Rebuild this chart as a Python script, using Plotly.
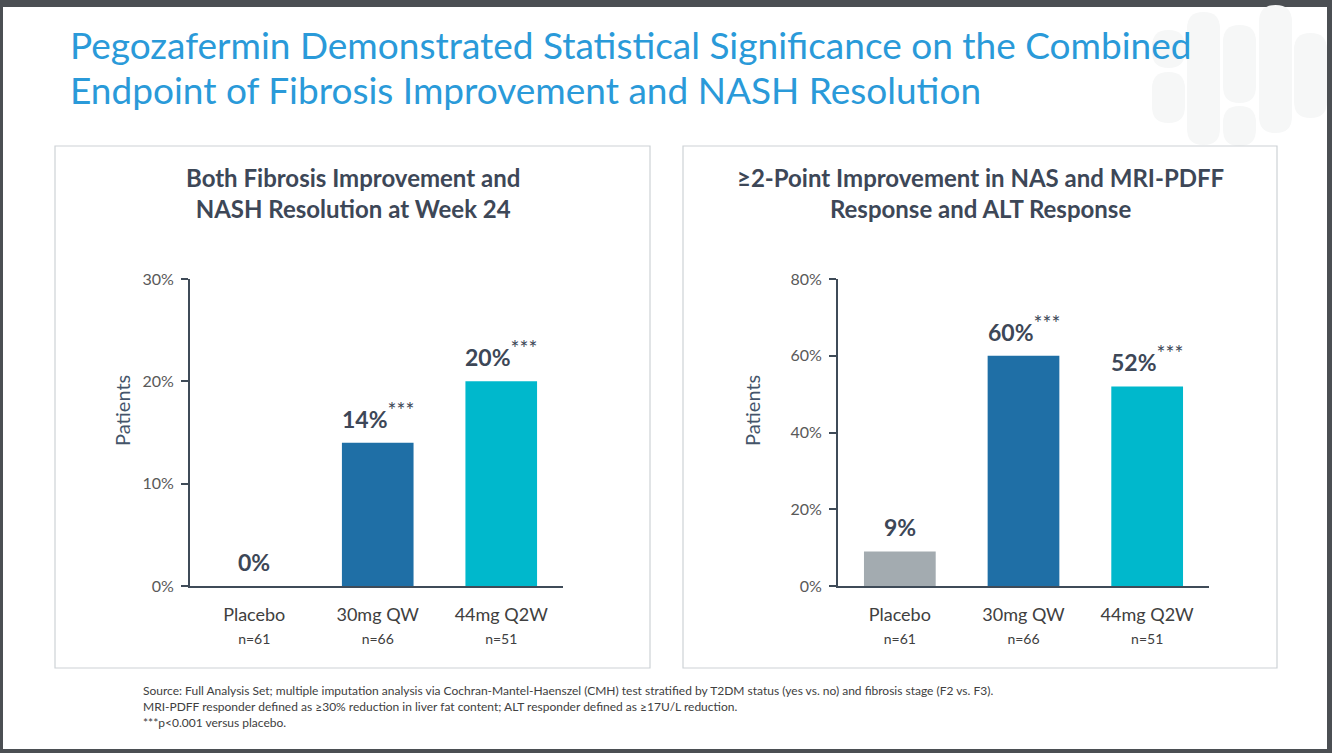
import plotly.graph_objects as go

W, H = 1332, 753

categories = ["Placebo", "30mg QW", "44mg Q2W"]
n_labels = ["n=61", "n=66", "n=51"]
left_values = [0, 14, 20]
right_values = [9, 60, 52]
left_sig = ["", "***", "***"]
right_sig = ["", "***", "***"]
left_ticks = [0, 10, 20, 30]
right_ticks = [0, 20, 40, 60, 80]

colors = ["#a3abb0", "#1f6fa6", "#00b8cc"]
FONT = "Lato"
DARK = "#3d4757"


def px(x):
    return x / W


def py(y):
    return 1 - y / H


fig = go.Figure()

fig.add_trace(go.Bar(x=categories, y=left_values, marker=dict(color=colors, line=dict(width=0)),
                     width=0.58, xaxis="x", yaxis="y", showlegend=False, hoverinfo="skip"))
fig.add_trace(go.Bar(x=categories, y=right_values, marker=dict(color=colors, line=dict(width=0)),
                     width=0.58, xaxis="x2", yaxis="y2", showlegend=False, hoverinfo="skip"))

ticktext = [f"{c}<br><span style='font-size:14px'>{n}</span>" for c, n in zip(categories, n_labels)]

axis_common = dict(showline=True, linecolor="#3f4b58", linewidth=2, showgrid=False, zeroline=False,
                   automargin=False)

fig.update_layout(
    width=W, height=H,
    margin=dict(l=0, r=0, t=0, b=0, pad=0, autoexpand=False),
    paper_bgcolor="#4b4f53",
    plot_bgcolor="rgba(0,0,0,0)",
    font=dict(family=FONT, color="#404040"),
    xaxis=dict(domain=[px(190), px(563)], range=[-0.52, 2.5], anchor="y",
               tickmode="array", tickvals=categories, ticktext=ticktext, ticklabelstandoff=11,
               ticks="", tickfont=dict(size=18, color="#404040", family=FONT), **axis_common),
    yaxis=dict(domain=[py(586), py(279)], range=[0, 30], anchor="x",
               tickmode="array", tickvals=left_ticks, ticktext=[f"{t}%" for t in left_ticks],
               ticks="outside", ticklen=7, tickwidth=2, tickcolor="#3f4b58", ticklabelstandoff=4,
               tickfont=dict(size=16, color="#595959", family=FONT), **axis_common),
    xaxis2=dict(domain=[px(838), px(1209)], range=[-0.5, 2.5], anchor="y2",
                tickmode="array", tickvals=categories, ticktext=ticktext, ticklabelstandoff=11,
                ticks="", tickfont=dict(size=18, color="#404040", family=FONT), **axis_common),
    yaxis2=dict(domain=[py(586), py(279)], range=[0, 80], anchor="x2",
                tickmode="array", tickvals=right_ticks, ticktext=[f"{t}%" for t in right_ticks],
                ticks="outside", ticklen=7, tickwidth=2, tickcolor="#3f4b58", ticklabelstandoff=4,
                tickfont=dict(size=16, color="#595959", family=FONT), **axis_common),
)

shapes = []
# white slide
shapes.append(dict(type="rect", xref="paper", yref="paper", x0=px(3), x1=px(1327), y0=py(749), y1=py(7),
                   fillcolor="white", line=dict(width=0), layer="below"))
# decorative pills
pills = [(1152, 1185, 30, 68), (1152, 1185, 72, 123), (1187, 1220, 12, 145), (1223, 1256, 25, 103),
         (1223, 1256, 106, 146), (1259, 1292, 5, 133), (1294, 1327, 33, 118)]


def P(x, y):
    return f"{px(x):.5f},{py(y):.5f}"


for x0, x1, y0, y1 in pills:
    r = (x1 - x0) / 2
    path = (f"M {P(x0, y0 + r)} L {P(x0, y1 - r)} "
            f"Q {P(x0, y1)} {P(x0 + r, y1)} Q {P(x1, y1)} {P(x1, y1 - r)} "
            f"L {P(x1, y0 + r)} Q {P(x1, y0)} {P(x0 + r, y0)} Q {P(x0, y0)} {P(x0, y0 + r)} Z")
    shapes.append(dict(type="path", xref="paper", yref="paper", path=path,
                       fillcolor="#f6f7f7", line=dict(width=0), layer="below"))
# panel boxes
for x0, x1 in [(55, 650), (683, 1277)]:
    shapes.append(dict(type="rect", xref="paper", yref="paper", x0=px(x0), x1=px(x1), y0=py(668), y1=py(146),
                       fillcolor="rgba(0,0,0,0)", line=dict(color="#cdd2d6", width=1.2), layer="below"))
fig.update_layout(shapes=shapes)

ann = []
# main title (two lines)
for txt, yy in [("Pegozafermin Demonstrated Statistical Significance on the Combined", 45),
                ("Endpoint of Fibrosis Improvement and NASH Resolution", 89)]:
    ann.append(dict(xref="paper", yref="paper", x=px(68), y=py(yy), xanchor="left", yanchor="middle",
                    text=txt, align="left", showarrow=False,
                    font=dict(size=37, color="#2a9ad9", family=FONT)))
# panel titles
ann.append(dict(xref="paper", yref="paper", x=px(353), y=py(193), xanchor="center", yanchor="middle",
                text="<b>Both Fibrosis Improvement and<br>NASH Resolution at Week 24</b>",
                showarrow=False, font=dict(size=24, color=DARK, family=FONT)))
ann.append(dict(xref="paper", yref="paper", x=px(980), y=py(193), xanchor="center", yanchor="middle",
                text="<b>≥2-Point Improvement in NAS and MRI-PDFF<br>Response and ALT Response</b>",
                showarrow=False, font=dict(size=24, color=DARK, family=FONT)))
# y titles
ann.append(dict(xref="paper", yref="paper", x=px(108), y=py(411), text="Patients", textangle=-90,
                showarrow=False, font=dict(size=20, color="#44546a", family=FONT)))
ann.append(dict(xref="paper", yref="paper", x=px(752), y=py(411), text="Patients", textangle=-90,
                showarrow=False, font=dict(size=20, color="#44546a", family=FONT)))
# value labels
for xr, yr, vals, sig in [("x", "y", left_values, left_sig), ("x2", "y2", right_values, right_sig)]:
    for c, v, s in zip(categories, vals, sig):
        t = f"<b>{v}%</b>" + (f"<sup><span style='font-size:21px'>{s}</span></sup>" if s else "")
        ann.append(dict(xref=xr, yref=yr, x=c, y=v, xanchor="center", yanchor="bottom", yshift=8,
                        text=t, showarrow=False, font=dict(size=23, color=DARK, family=FONT)))
# footnotes
foot = ["Source: Full Analysis Set; multiple imputation analysis via Cochran-Mantel-Haenszel (CMH) test stratified by T2DM status (yes vs. no) and fibrosis stage (F2 vs. F3).",
        "MRI-PDFF responder defined as ≥30% reduction in liver fat content; ALT responder defined as ≥17U/L reduction.",
        "***p<0.001 versus placebo."]
for i, f in enumerate(foot):
    ann.append(dict(xref="paper", yref="paper", x=px(141), y=py(690 + 16 * i), xanchor="left", yanchor="middle",
                    text=f, showarrow=False, font=dict(size=12, color="#404040", family=FONT)))
fig.update_layout(annotations=ann)

fig.write_html("out.html")
